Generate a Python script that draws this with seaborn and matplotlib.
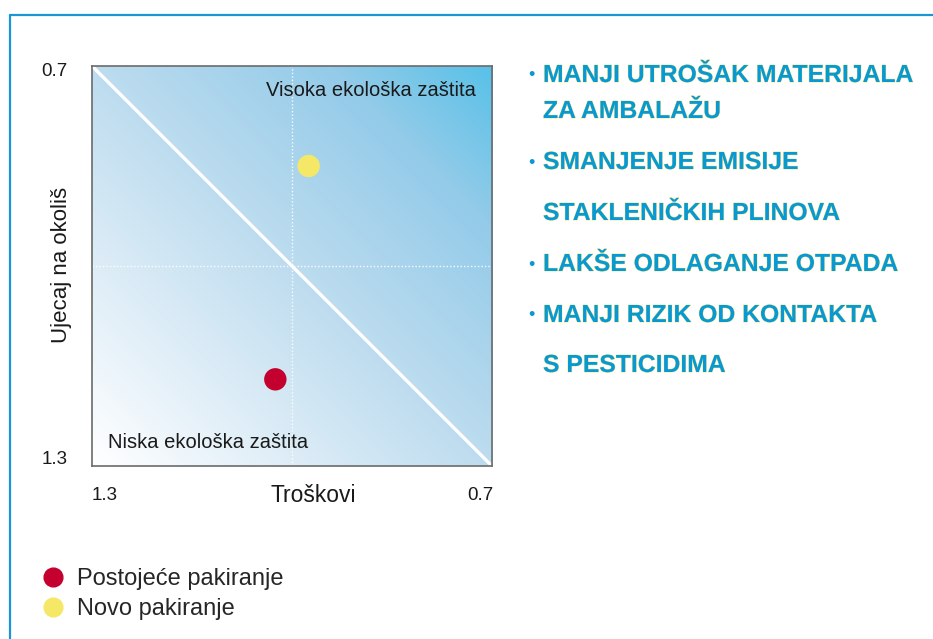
import numpy as np
import pandas as pd
import matplotlib
matplotlib.use("Agg")
import matplotlib.pyplot as plt
import matplotlib.patheffects as pe
from matplotlib.colors import LinearSegmentedColormap
from matplotlib.lines import Line2D
import seaborn as sns

# data
packaging = ["Postojeće pakiranje", "Novo pakiranje"]
costs = [1.025, 0.975]
impact = [1.17, 0.85]
dot_colors = ["#c4002f", "#f5e867"]

benefits = [
    ("MANJI UTROŠAK MATERIJALA", True),
    ("ZA AMBALAŽU", False),
    ("SMANJENJE EMISIJE", True),
    ("STAKLENIČKIH PLINOVA", False),
    ("LAKŠE ODLAGANJE OTPADA", True),
    ("MANJI RIZIK OD KONTAKTA", True),
    ("S PESTICIDIMA", False),
]
benefit_y = [75, 111, 162, 213, 264, 315, 365]

sns.set_theme(style="white")
plt.rcParams["font.family"] = ["Liberation Sans", "DejaVu Sans"]

W, H = 933, 639
fig = plt.figure(figsize=(W / 100, H / 100), dpi=100)
ax = fig.add_axes([92 / W, (H - 466) / H, 400 / W, 400 / H])

# diagonal gradient background: white bottom-left -> cyan top-right
cmap = LinearSegmentedColormap.from_list(
    "eco", [(0, "#ffffff"), (0.5, "#bddcef"), (0.8, "#93cbe9"), (1, "#58c1e8")])
u, v = np.meshgrid(np.linspace(0, 1, 300), np.linspace(0, 1, 300))
ax.imshow((u + v) / 2, cmap=cmap, extent=(0, 1, 0, 1), origin="lower",
          transform=ax.transAxes, aspect="auto", zorder=0, vmin=0, vmax=1)

ax.set_xlim(1.3, 0.7)
ax.set_ylim(1.3, 0.7)

ax.axvline(1.0, color="white", lw=1, ls=(0, (1, 1.5)), alpha=0.9, zorder=1)
ax.axhline(1.0, color="white", lw=1, ls=(0, (1, 1.5)), alpha=0.9, zorder=1)
ax.plot([1.3, 0.7], [0.7, 1.3], color="white", lw=2.4, zorder=2)

df = pd.DataFrame({"pakiranje": packaging, "troskovi": costs, "ujecaj": impact})
sns.scatterplot(data=df, x="troskovi", y="ujecaj", hue="pakiranje",
                palette=dict(zip(packaging, dot_colors)), s=260,
                edgecolor="none", legend=False, ax=ax, zorder=3)

ax.set_xticks([])
ax.set_yticks([])
ax.set_xlabel("")
ax.set_ylabel("")
for sp in ax.spines.values():
    sp.set_color("#6b6b6b")
    sp.set_linewidth(1.2)

ax.text(0.96, 0.94, "Visoka ekološka zaštita", transform=ax.transAxes,
        ha="right", va="center", fontsize=14.5, color="#1a1a1a")
ax.text(0.04, 0.06, "Niska ekološka zaštita", transform=ax.transAxes,
        ha="left", va="center", fontsize=14.5, color="#1a1a1a")

# axis end labels and titles
fig.text(68 / W, 1 - 72 / H, "0.7", ha="right", va="center", fontsize=13.5, color="#1a1a1a")
fig.text(68 / W, 1 - 459 / H, "1.3", ha="right", va="center", fontsize=13.5, color="#1a1a1a")
fig.text(105 / W, 1 - 496 / H, "1.3", ha="center", va="center", fontsize=13.5, color="#1a1a1a")
fig.text(480 / W, 1 - 496 / H, "0.7", ha="center", va="center", fontsize=13.5, color="#1a1a1a")
fig.text(313 / W, 1 - 495 / H, "Troškovi", ha="center", va="center", fontsize=16.5, color="#1a1a1a")
fig.text(62 / W, 1 - 265 / H, "Ujecaj na okoliš", ha="center", va="center",
         rotation=90, fontsize=16, color="#1a1a1a")

# legend
handles = [Line2D([], [], marker="o", ls="", color=c, markersize=13.5, label=l)
           for l, c in zip(packaging, dot_colors)]
fig.legend(handles=handles, loc="upper left", bbox_to_anchor=(29 / W, 1 - 556 / H),
           frameon=False, fontsize=17, handletextpad=0.55, labelspacing=0.35,
           handlelength=1.0, borderpad=0)

# benefit list
for (txt, bullet), y in zip(benefits, benefit_y):
    fig.text(543 / W, 1 - y / H, txt, ha="left", va="center", fontsize=17.8,
             fontweight="bold", color="#0899d5",
             path_effects=[pe.withStroke(linewidth=0.6, foreground="#eee57a")])
    if bullet:
        fig.text(531 / W, 1 - (y + 1) / H, "•", ha="center", va="center",
                 fontsize=13, color="#0899d5")

# blue frame
fig.add_artist(Line2D([10 / W, 1], [1 - 14.5 / H] * 2, color="#1996d3", lw=1.6,
                      transform=fig.transFigure))
fig.add_artist(Line2D([10 / W] * 2, [0, 1 - 14.5 / H], color="#1996d3", lw=1.6,
                      transform=fig.transFigure))

fig.savefig("out.png", dpi=100, facecolor="white")
